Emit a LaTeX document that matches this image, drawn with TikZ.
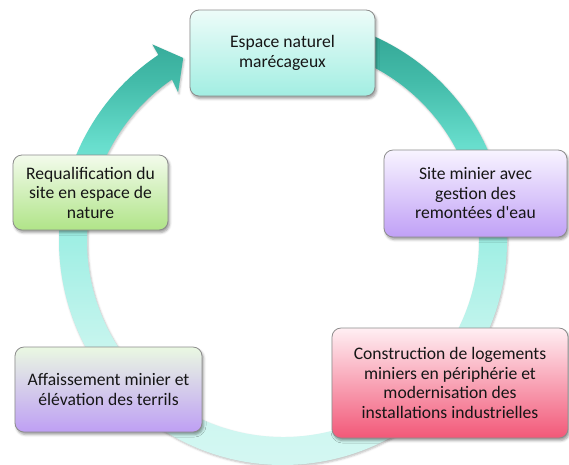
\documentclass[tikz,border=0pt]{standalone}
\usepackage{fontspec}
\setmainfont{Carlito}
\usetikzlibrary{shadows.blur}

% ring colours, dark teal at the top fading to pale mint at the bottom
\definecolor{ringA}{HTML}{30A291}
\definecolor{ringAB}{HTML}{44BCAA}
\definecolor{ringB}{HTML}{68DECD}
\definecolor{ringC}{HTML}{9CEEE3}
\definecolor{ringD}{HTML}{C6F5EE}
\definecolor{ringE}{HTML}{D3F7F2}
\pgfdeclareverticalshading{ringshade}{100bp}{%
  color(0bp)=(ringE); color(26.7bp)=(ringE); color(39bp)=(ringD);
  color(51.2bp)=(ringC); color(60.2bp)=(ringB); color(66.9bp)=(ringAB);
  color(73.5bp)=(ringA); color(100bp)=(ringA)}

% box colours
\definecolor{boxline}{HTML}{8C8C8C}
\definecolor{textdark}{HTML}{161616}
\definecolor{tealTop}{HTML}{EDFCF9}
\definecolor{tealMid}{HTML}{CDF7F0}
\definecolor{tealBot}{HTML}{A2EEE2}
\definecolor{lilacTop}{HTML}{F8F4FF}
\definecolor{lilacMid}{HTML}{E6D9FC}
\definecolor{lilacBot}{HTML}{C0A0F6}
\definecolor{roseTop}{HTML}{FFEFF3}
\definecolor{roseMid}{HTML}{FFC2CF}
\definecolor{roseBot}{HTML}{F25878}
\definecolor{mixTop}{HTML}{EAF8E2}
\definecolor{mixMid}{HTML}{E0D2FA}
\definecolor{mixBot}{HTML}{BE9FF4}
\definecolor{leafTop}{HTML}{F3FBEC}
\definecolor{leafMid}{HTML}{D6F2C0}
\definecolor{leafBot}{HTML}{B0E488}

\begin{document}
\begin{tikzpicture}[x=1pt,y=1pt,
  stagebox/.style={rounded corners=9pt, draw=boxline, line width=0.8pt,
    align=center, text=textdark, inner sep=0pt,
    font=\fontsize{17.6}{19.5}\selectfont,
    blur shadow={shadow xshift=1.5pt, shadow yshift=-2.5pt,
      shadow blur radius=2.5pt, shadow opacity=40}},
  ringstyle/.style={shading=ringshade,
    blur shadow={shadow xshift=1pt, shadow yshift=-1.5pt,
      shadow blur radius=2pt, shadow opacity=25}},
]
\useasboundingbox (0,0) rectangle (569,-464);

% circular arrow running clockwise, head at the upper left
\begin{scope}[shift={(283,-241)}]
  \shade[ringstyle]
    (124.5:196) arc[start angle=124.5, end angle=455, radius=196]
    -- (455:224) arc[start angle=455, end angle=123.8, radius=224]
    -- (123.6:236) -- (118.6:208.5) -- (125.2:182) -- (124.5:196) -- cycle;
\end{scope}

% the five stages
\node[stagebox, top color=tealTop, middle color=tealMid, bottom color=tealBot,
  minimum width=185pt, minimum height=86pt] (espace) at (282.5,-53)
  {Espace naturel\\marécageux};
\node[stagebox, top color=lilacTop, middle color=lilacMid, bottom color=lilacBot,
  minimum width=183pt, minimum height=87pt] (site) at (475.5,-193.5)
  {Site minier avec\\gestion des\\remontées d\textquotesingle eau};
\node[stagebox, top color=roseTop, middle color=roseMid, bottom color=roseBot,
  minimum width=236pt, minimum height=110pt] (constr) at (450,-383)
  {Construction de logements\\miniers en périphérie et\\modernisation des\\installations industrielles};
\node[stagebox, top color=mixTop, middle color=mixMid, bottom color=mixBot,
  minimum width=187pt, minimum height=85pt] (affais) at (108.5,-389.5)
  {Affaissement minier et\\élévation des terrils};
\node[stagebox, top color=leafTop, middle color=leafMid, bottom color=leafBot,
  minimum width=155pt, minimum height=75pt] (requal) at (90.5,-192.5)
  {Requalification du\\site en espace de\\nature};
\end{tikzpicture}
\end{document}
